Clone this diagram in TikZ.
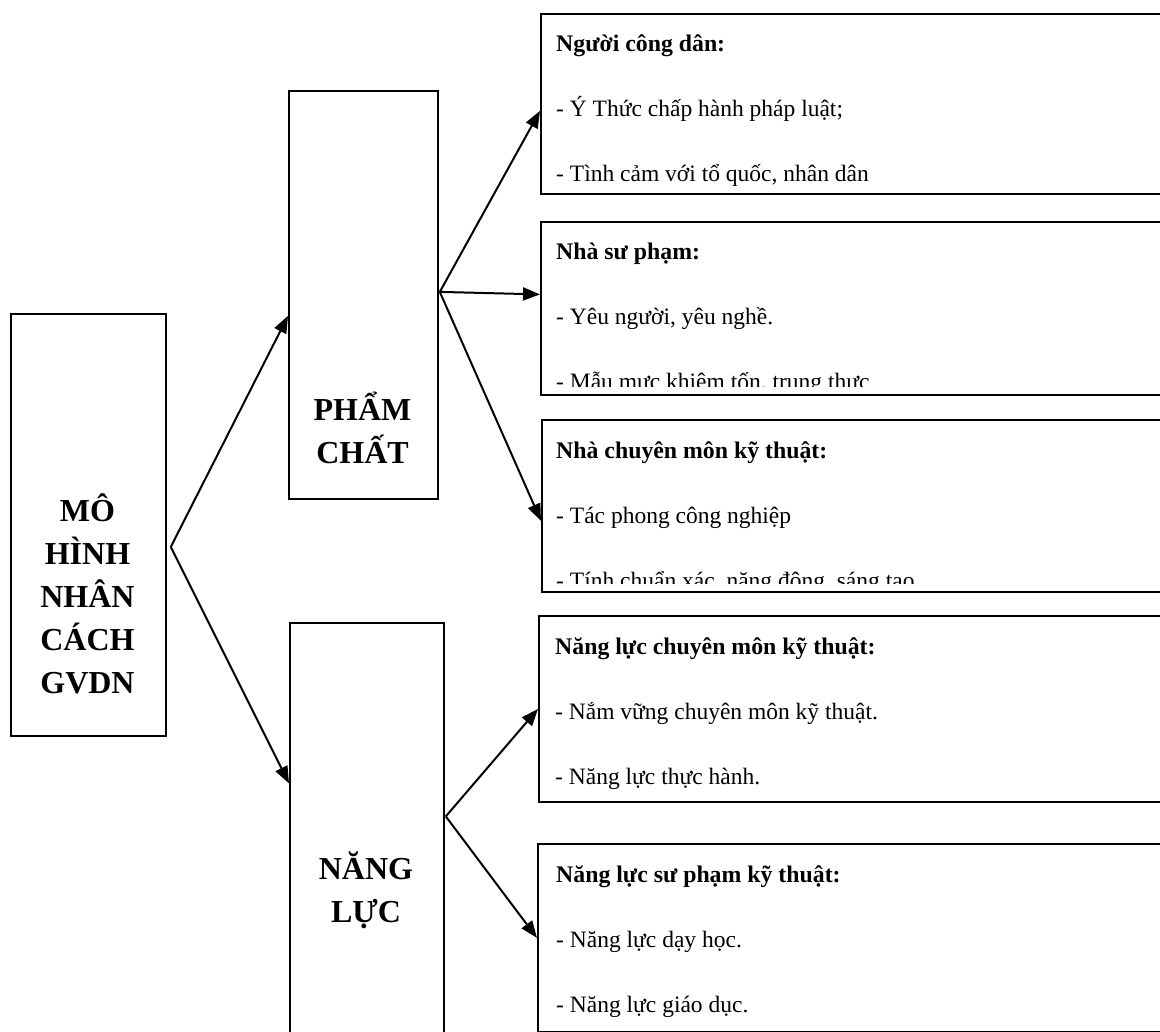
\documentclass[tikz,border=0pt]{standalone}
\usepackage{fontspec}
\setmainfont{Liberation Serif}
\usetikzlibrary{arrows.meta}

\begin{document}
\begin{tikzpicture}[
  x=1pt, y=-1pt,
  frame/.style={rectangle, draw=black, line width=1.8pt, inner sep=0pt, anchor=north west},
  biglbl/.style={align=center, inner sep=0pt, font=\fontsize{32}{43}\selectfont\bfseries},
  headtxt/.style={anchor=base west, inner sep=0pt, font=\fontsize{23.8}{28}\selectfont\bfseries},
  itemtxt/.style={anchor=base west, inner sep=0pt, font=\fontsize{23.5}{28}\selectfont},
  arrow/.style={-{Triangle[length=17pt,width=13pt]}, line width=2pt}
]
\clip (0,0) rectangle (1160,1032);

% left column
\node[frame, minimum width=155pt, minimum height=422pt] (root) at (10,313) {};
\node[frame, minimum width=149pt, minimum height=408pt] (pc) at (288,90) {};
\node[frame, minimum width=154pt, minimum height=423pt] (nl) at (289,622) {};

\node[biglbl] (rootlbl) at (87.5,594) {MÔ\\HÌNH\\NHÂN\\CÁCH\\GVDN};
\node[biglbl] (pclbl) at (362.5,428) {PHẨM\\CHẤT};
\node[biglbl] (nllbl) at (366,890) {NĂNG\\LỰC};

% right column
\node[frame, minimum width=640pt, minimum height=180pt] (cd) at (540,13) {};
\node[frame, minimum width=640pt, minimum height=173pt] (sp) at (540,221) {};
\node[frame, minimum width=640pt, minimum height=172pt] (cm) at (541,419) {};
\node[frame, minimum width=640pt, minimum height=186pt] (nlcm) at (538,615) {};
\node[frame, minimum width=640pt, minimum height=188pt] (nlsp) at (537,843) {};

\begin{scope}
  \clip (cd.north west) rectangle ([yshift=9pt]cd.south east);
  \node[headtxt] (cdh) at ([xshift=16pt,yshift=-39pt]cd.north west) {Người công dân:};
  \node[itemtxt] (cda) at ([yshift=-65pt]cdh.base west) {- Ý Thức chấp hành pháp luật;};
  \node[itemtxt] (cdb) at ([yshift=-65pt]cda.base west) {- Tình cảm với tổ quốc, nhân dân};
\end{scope}
\begin{scope}
  \clip (sp.north west) rectangle ([yshift=9pt]sp.south east);
  \node[headtxt] (sph) at ([xshift=16pt,yshift=-39pt]sp.north west) {Nhà sư phạm:};
  \node[itemtxt] (spa) at ([yshift=-65pt]sph.base west) {- Yêu người, yêu nghề.};
  \node[itemtxt] (spb) at ([yshift=-65pt]spa.base west) {- Mẫu mực khiêm tốn, trung thực};
\end{scope}
\begin{scope}
  \clip (cm.north west) rectangle ([yshift=9pt]cm.south east);
  \node[headtxt] (cmh) at ([xshift=15pt,yshift=-39pt]cm.north west) {Nhà chuyên môn kỹ thuật:};
  \node[itemtxt] (cma) at ([yshift=-65pt]cmh.base west) {- Tác phong công nghiệp};
  \node[itemtxt] (cmb) at ([yshift=-65pt]cma.base west) {- Tính chuẩn xác, năng động, sáng tạo};
\end{scope}
\begin{scope}
  \clip (nlcm.north west) rectangle ([yshift=9pt]nlcm.south east);
  \node[headtxt] (nlcmh) at ([xshift=17pt,yshift=-39pt]nlcm.north west) {Năng lực chuyên môn kỹ thuật:};
  \node[itemtxt] (nlcma) at ([yshift=-65pt]nlcmh.base west) {- Nắm vững chuyên môn kỹ thuật.};
  \node[itemtxt] (nlcmb) at ([yshift=-65pt]nlcma.base west) {- Năng lực thực hành.};
\end{scope}
\begin{scope}
  \clip (nlsp.north west) rectangle ([yshift=9pt]nlsp.south east);
  \node[headtxt] (nlsph) at ([xshift=19pt,yshift=-39pt]nlsp.north west) {Năng lực sư phạm kỹ thuật:};
  \node[itemtxt] (nlspa) at ([yshift=-65pt]nlsph.base west) {- Năng lực dạy học.};
  \node[itemtxt] (nlspb) at ([yshift=-65pt]nlspa.base west) {- Năng lực giáo dục.};
\end{scope}

% connectors
\coordinate (rootfork) at ([xshift=4pt,yshift=-22pt]root.east);
\coordinate (pcfork) at ([xshift=1pt,yshift=3pt]pc.east);
\coordinate (nlfork) at ([xshift=1pt,yshift=18pt]nl.east);
\draw[arrow] (rootfork) -- ([yshift=-21pt]pc.west);
\draw[arrow] (rootfork) -- ([yshift=51pt]nl.west);
\draw[arrow] (pcfork) -- ([yshift=-7pt]cd.west);
\draw[arrow] (pcfork) -- ([yshift=14pt]sp.west);
\draw[arrow] (pcfork) -- ([yshift=-15pt]cm.west);
\draw[arrow] (nlfork) -- (nlcm.west);
\draw[arrow] (nlfork) -- (nlsp.west);
\end{tikzpicture}
\end{document}
